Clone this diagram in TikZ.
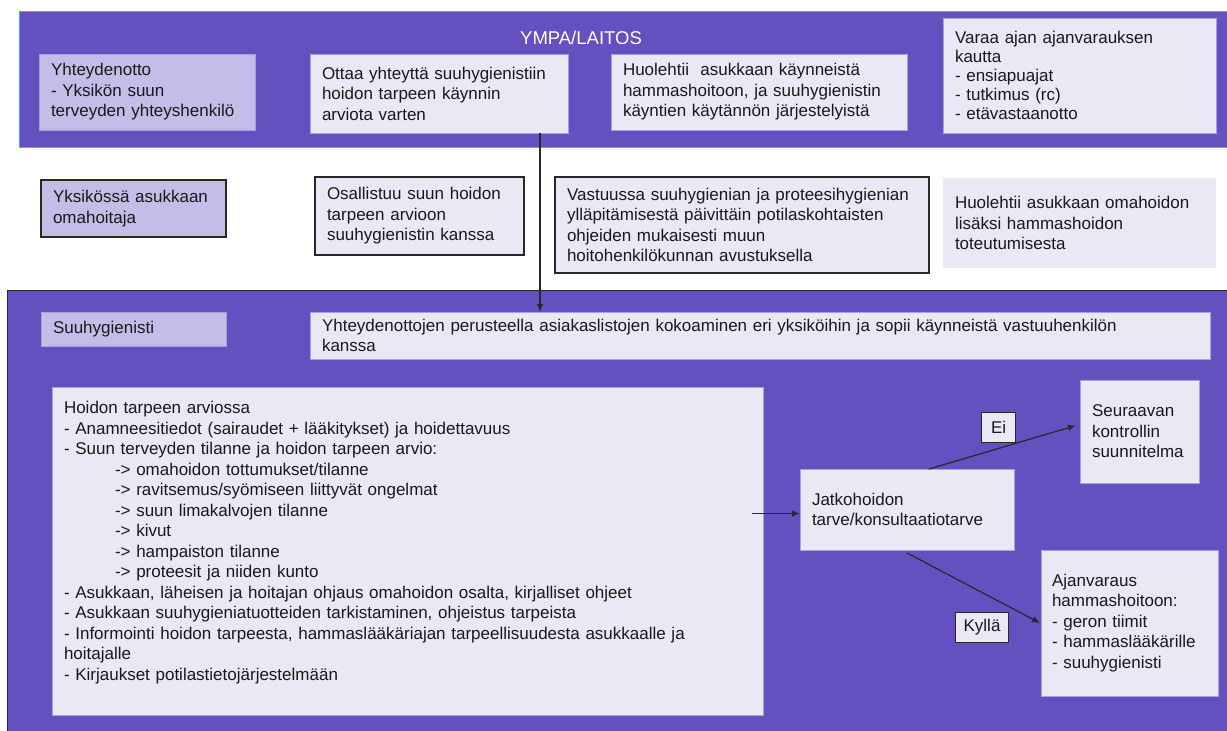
\documentclass[tikz,border=0pt]{standalone}
\usepackage{fontspec}
\setmainfont{Liberation Sans}
\usetikzlibrary{arrows.meta}
\definecolor{bandpurple}{RGB}{100,80,190}
\definecolor{lavbox}{RGB}{196,189,232}
\definecolor{lightbox}{RGB}{234,232,245}
\definecolor{softedge}{RGB}{170,158,225}
\definecolor{bandline}{RGB}{70,176,226}
\definecolor{inkline}{RGB}{40,40,40}
\definecolor{txt}{RGB}{25,25,25}
\newcommand{\fsz}{\fontsize{17}{20.5}\selectfont}
\begin{document}
\begin{tikzpicture}[x=1pt,y=-1pt,
  box/.style={rectangle, anchor=north west, inner xsep=12pt, inner ysep=0pt, outer sep=0pt, align=left, font=\fsz, text=txt, draw=softedge, line width=0.8pt},
  lightfill/.style={box, fill=lightbox},
  lavfill/.style={box, fill=lavbox},
  framed/.style={draw=inkline, line width=1.1pt},
  tag/.style={rectangle, draw=inkline, line width=1.1pt, fill=lightbox, font=\fsz, text=txt, inner sep=0pt, anchor=north west},
  conn/.style={draw=inkline, line width=1.2pt, -{Latex[length=8pt,width=6.5pt]}},
  band/.style={fill=bandpurple}
]
\useasboundingbox (0,0) rectangle (1227,731);
\fill[white] (0,0) rectangle (1227,731);

% top band
\draw[band, draw=bandline, line width=1pt] (19,11) rectangle (1232,147);
\node[font=\fontsize{18.5}{20}\selectfont, text=white] (ympa) at (581,38) {YMPA/LAITOS};

\node[lavfill, minimum width=216pt, minimum height=76pt, text width=192pt] (yht) at (39,54) {Yhteydenotto\\- Yksikön suun\\terveyden yhteyshenkilö};
\node[lightfill, minimum width=258pt, minimum height=79pt, text width=234pt] (ott) at (310,54) {Ottaa yhteyttä suuhygienistiin\\hoidon tarpeen käynnin\\arviota varten};
\node[lightfill, minimum width=296pt, minimum height=76pt, text width=272pt] (huo) at (611,54) {Huolehtii~ asukkaan käynneistä\\hammashoitoon, ja suuhygienistin\\käyntien käytännön järjestelyistä};
\node[lightfill, font=\fontsize{17}{19}\selectfont, minimum width=273pt, minimum height=115pt, text width=249pt] (var) at (943,18) {Varaa ajan ajanvarauksen\\kautta\\- ensiapuajat\\- tutkimus (rc)\\- etävastaanotto};

% middle row
\node[lavfill, framed, minimum width=185pt, minimum height=57pt, text width=161pt] (oma) at (41,180) {Yksikössä asukkaan\\omahoitaja};
\node[lightfill, framed, minimum width=209pt, minimum height=78pt, text width=185pt] (osa) at (315,177) {Osallistuu suun hoidon\\tarpeen arvioon\\suuhygienistin kanssa};
\node[lightfill, framed, minimum width=374pt, minimum height=96pt, text width=350pt] (vas) at (555,177) {Vastuussa suuhygienian ja proteesihygienian\\ylläpitämisestä päivittäin potilaskohtaisten\\ohjeiden mukaisesti muun\\hoitohenkilökunnan avustuksella};
\node[lightfill, draw=none, minimum width=273pt, minimum height=90pt, text width=249pt] (hoa) at (943,178) {Huolehtii asukkaan omahoidon\\lisäksi hammashoidon\\toteutumisesta};

% bottom band
\draw[band, draw=inkline, line width=1pt] (7,290) rectangle (1232,740);

\node[lavfill, minimum width=185pt, minimum height=34pt, text width=161pt] (suu) at (41,312) {Suuhygienisti};
\node[lightfill, minimum width=900pt, minimum height=47pt, text width=876pt] (list) at (310,312) {Yhteydenottojen perusteella asiakaslistojen kokoaminen eri yksiköihin ja sopii käynneistä vastuuhenkilön\\kanssa};
\node[lightfill, minimum width=711pt, minimum height=328pt, text width=687pt] (arv) at (52,387) {Hoidon tarpeen arviossa\\- Anamneesitiedot (sairaudet + lääkitykset) ja hoidettavuus\\- Suun terveyden tilanne ja hoidon tarpeen arvio:\\\hspace*{51pt}-> omahoidon tottumukset/tilanne\\\hspace*{51pt}-> ravitsemus/syömiseen liittyvät ongelmat\\\hspace*{51pt}-> suun limakalvojen tilanne\\\hspace*{51pt}-> kivut\\\hspace*{51pt}-> hampaiston tilanne\\\hspace*{51pt}-> proteesit ja niiden kunto\\- Asukkaan, läheisen ja hoitajan ohjaus omahoidon osalta, kirjalliset ohjeet\\- Asukkaan suuhygieniatuotteiden tarkistaminen, ohjeistus tarpeista\\- Informointi hoidon tarpeesta, hammaslääkäriajan tarpeellisuudesta asukkaalle ja\\hoitajalle\\- Kirjaukset potilastietojärjestelmään\\ \mbox{}};
\node[lightfill, minimum width=214pt, minimum height=81pt, text width=190pt] (jat) at (800,469) {Jatkohoidon\\tarve/konsultaatiotarve};
\node[lightfill, minimum width=119pt, minimum height=103pt, text width=95pt] (seu) at (1080,380) {Seuraavan\\kontrollin\\suunnitelma};
\node[lightfill, inner xsep=11pt, minimum width=177pt, minimum height=146pt, text width=155pt] (aja) at (1041,550) {Ajanvaraus\\hammashoitoon:\\- geron tiimit\\- hammaslääkärille\\- suuhygienisti};

% connectors
\coordinate (vx) at (540,0);
\draw[conn] (ott.south -| vx) -- (list.north -| vx);
\path (arv.east |- jat.west) coordinate (arvout);
\draw[conn] ([xshift=-11pt,yshift=-4pt]arvout) -- ([yshift=-4pt]jat.west);
\draw[conn] ([xshift=22pt]jat.north) -- ([xshift=-4pt,yshift=6pt]seu.west);
\draw[conn] ([yshift=-3pt]jat.south) -- ([xshift=-1pt]aja.west);

\node[tag, minimum width=34pt, minimum height=30pt] (ei) at (981,412) {Ei};
\node[tag, minimum width=53pt, minimum height=30pt] (kyl) at (955,612) {Kyllä};
\end{tikzpicture}
\end{document}
